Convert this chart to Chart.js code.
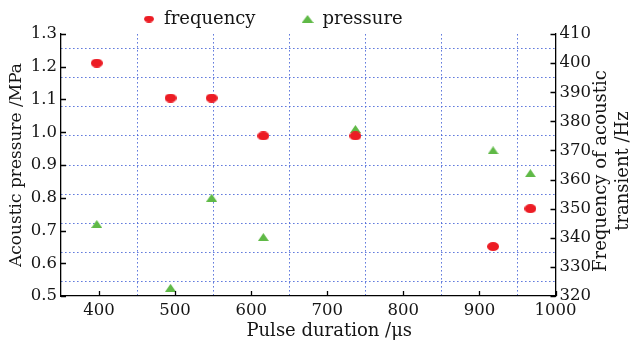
<!DOCTYPE html>
<html><head><meta charset="utf-8">
<script src="https://cdn.jsdelivr.net/npm/chart.js@4.4.1/dist/chart.umd.min.js"></script>
<style>html,body{margin:0;padding:0;background:#fff;}</style>
</head><body>
<canvas id="c" width="630" height="342"></canvas>
<script>
// ---- data ----
const freqPulse = [397, 494, 548, 616, 737, 918, 967];
const frequency = [400, 388, 388, 375, 375, 337, 350];
const pressPulse = [397, 494, 548, 616, 737, 918, 967];
const pressure = [0.72, 0.525, 0.80, 0.68, 1.01, 0.945, 0.875];
const xTicks = [400, 500, 600, 700, 800, 900, 1000];
const pressureTicks = [0.5, 0.6, 0.7, 0.8, 0.9, 1.0, 1.1, 1.2, 1.3];
const freqTicks = [320, 330, 340, 350, 360, 370, 380, 390, 400, 410];
const xGridVals = [450, 550, 650, 750, 850, 950];
const freqGridVals = [325, 335, 345, 355, 365, 375, 385, 395, 405];
const seriesNames = ['frequency', 'pressure'];
const xTitle = 'Pulse duration /μs';
const leftTitle = 'Acoustic pressure /MPa';
const rightTitleLines = ['Frequency of acoustic', 'transient /Hz'];

const FONT = '"DejaVu Serif", serif';
const TXT = '#151515';
const RED = '#ec1c24';
const GREEN = '#5fb946';
const GRIDC = 'rgba(70,100,215,0.85)';

function ellipseImg(w, h, color) {
  const c = document.createElement('canvas'); c.width = w; c.height = h;
  const g = c.getContext('2d'); g.fillStyle = color; g.beginPath();
  g.ellipse(w / 2, h / 2, w / 2, h / 2, 0, 0, Math.PI * 2); g.fill(); return c;
}
function triImg(w, h, color) {
  const c = document.createElement('canvas'); c.width = w; c.height = h;
  const g = c.getContext('2d'); g.fillStyle = color; g.beginPath();
  g.moveTo(w / 2, 0); g.lineTo(w, h); g.lineTo(0, h); g.closePath(); g.fill(); return c;
}
const dotImg = ellipseImg(12, 9, RED);
const triMark = triImg(11, 8, GREEN);
const legDot = ellipseImg(10, 7, RED);
const legTri = triImg(12, 8, GREEN);

const setTicks = (vals) => (s) => { s.ticks = vals.map(v => ({ value: v })); };

const legendShift = {
  id: 'legendShift',
  afterLayout(chart) {
    const lg = chart.legend;
    const P = lg.options.labels.padding;
    lg.left = 143 - P; lg.right = 630;
    lg.top = 10 - P; lg.bottom = 342;
  }
};
// inward tick marks on the three visible axes, placed through the scales
const innerTicks = {
  id: 'innerTicks',
  afterDraw(chart) {
    const ctx = chart.ctx, a = chart.chartArea, L = 5;
    ctx.save();
    ctx.strokeStyle = '#000'; ctx.lineWidth = 1.3;
    ctx.beginPath();
    const sx = chart.scales.x, sy = chart.scales.y, sy2 = chart.scales.y2;
    sx.ticks.forEach(t => { const p = Math.round(sx.getPixelForValue(t.value)) + 0.5; ctx.moveTo(p, a.bottom); ctx.lineTo(p, a.bottom - L); });
    sy.ticks.forEach(t => { const p = Math.round(sy.getPixelForValue(t.value)) + 0.5; ctx.moveTo(a.left, p); ctx.lineTo(a.left + L, p); });
    sy2.ticks.forEach(t => { const p = Math.round(sy2.getPixelForValue(t.value)) + 0.5; ctx.moveTo(a.right, p); ctx.lineTo(a.right - L, p); });
    ctx.stroke();
    ctx.restore();
  }
};
const rightTitle = {
  id: 'rightTitle',
  afterDraw(chart) {
    const ctx = chart.ctx, a = chart.chartArea;
    ctx.save();
    ctx.font = '18px ' + FONT; ctx.fillStyle = TXT;
    ctx.textAlign = 'center'; ctx.textBaseline = 'middle';
    ctx.translate(601, (a.top + a.bottom) / 2 + 6);
    ctx.rotate(-Math.PI / 2);
    ctx.fillText(rightTitleLines[0], 0, 0);
    ctx.fillText(rightTitleLines[1], 0, 22);
    ctx.restore();
  }
};

new Chart(document.getElementById('c'), {
  type: 'scatter',
  data: {
    datasets: [
      { label: seriesNames[0], data: freqPulse.map((x, i) => ({ x, y: frequency[i] })),
        xAxisID: 'x', yAxisID: 'y2', pointStyle: dotImg, backgroundColor: RED, borderColor: RED },
      { label: seriesNames[1], data: pressPulse.map((x, i) => ({ x, y: pressure[i] })),
        xAxisID: 'x', yAxisID: 'y', pointStyle: triMark, backgroundColor: GREEN, borderColor: GREEN }
    ]
  },
  options: {
    responsive: false, animation: false, devicePixelRatio: 1,
    layout: { padding: 0 },
    plugins: {
      tooltip: { enabled: false },
      legend: {
        position: 'top', align: 'start', maxHeight: 34,
        labels: {
          usePointStyle: true, boxWidth: 12, boxHeight: 12, padding: 46, color: TXT,
          font: { family: FONT, size: 18 },
          generateLabels(chart) {
            const items = Chart.defaults.plugins.legend.labels.generateLabels(chart);
            items[0].pointStyle = legDot; items[1].pointStyle = legTri;
            return items;
          }
        }
      }
    },
    scales: {
      x: {
        type: 'linear', position: 'bottom', min: 350, max: 1000,
        afterBuildTicks: setTicks(xTicks),
        afterFit(s) {
          s.height = 46;
          if (!s._shifted) {
            const orig = s.drawTitle.bind(s);
            s.drawTitle = function () { this.ctx.save(); this.ctx.translate(21, 0); orig(); this.ctx.restore(); };
            s._shifted = true;
          }
        },
        grid: { drawOnChartArea: false, drawTicks: false },
        border: { color: '#000', width: 1.3 },
        ticks: { color: TXT, font: { family: FONT, size: 16.5 }, padding: 5, maxRotation: 0, callback: v => String(v) },
        title: { display: true, text: xTitle, color: TXT, font: { family: FONT, size: 18 }, padding: { top: 0, bottom: 0 } }
      },
      xg: {
        type: 'linear', position: 'bottom', min: 350, max: 1000,
        afterBuildTicks: setTicks(xGridVals),
        grid: { color: GRIDC, lineWidth: 1, drawTicks: false },
        border: { display: false, dash: [1.6, 2.4] },
        ticks: { display: false }
      },
      y: {
        type: 'linear', position: 'left', min: 0.5, max: 1.3,
        afterBuildTicks: setTicks(pressureTicks),
        afterFit(s) { s.width = 61; },
        grid: { drawOnChartArea: false, drawTicks: false },
        border: { color: '#000', width: 1.3 },
        ticks: { color: TXT, font: { family: FONT, size: 16.5 }, padding: 4, callback: v => v.toFixed(1) },
        title: { display: true, text: leftTitle, color: TXT, font: { family: FONT, size: 17 }, padding: { top: 6, bottom: 0 } }
      },
      y2: {
        type: 'linear', position: 'right', min: 320, max: 410,
        afterBuildTicks: setTicks(freqTicks),
        afterFit(s) { s.width = 74.5; },
        grid: { drawOnChartArea: false, drawTicks: false },
        border: { color: '#000', width: 1.3 },
        ticks: { color: TXT, font: { family: FONT, size: 16.5 }, padding: 4, callback: v => String(v) }
      },
      yg: {
        type: 'linear', position: 'right', min: 320, max: 410,
        afterBuildTicks: setTicks(freqGridVals),
        grid: { color: GRIDC, lineWidth: 1, drawTicks: false },
        border: { display: false, dash: [1.6, 2.4] },
        ticks: { display: false }
      }
    }
  },
  plugins: [legendShift, innerTicks, rightTitle]
});
</script>
</body></html>
